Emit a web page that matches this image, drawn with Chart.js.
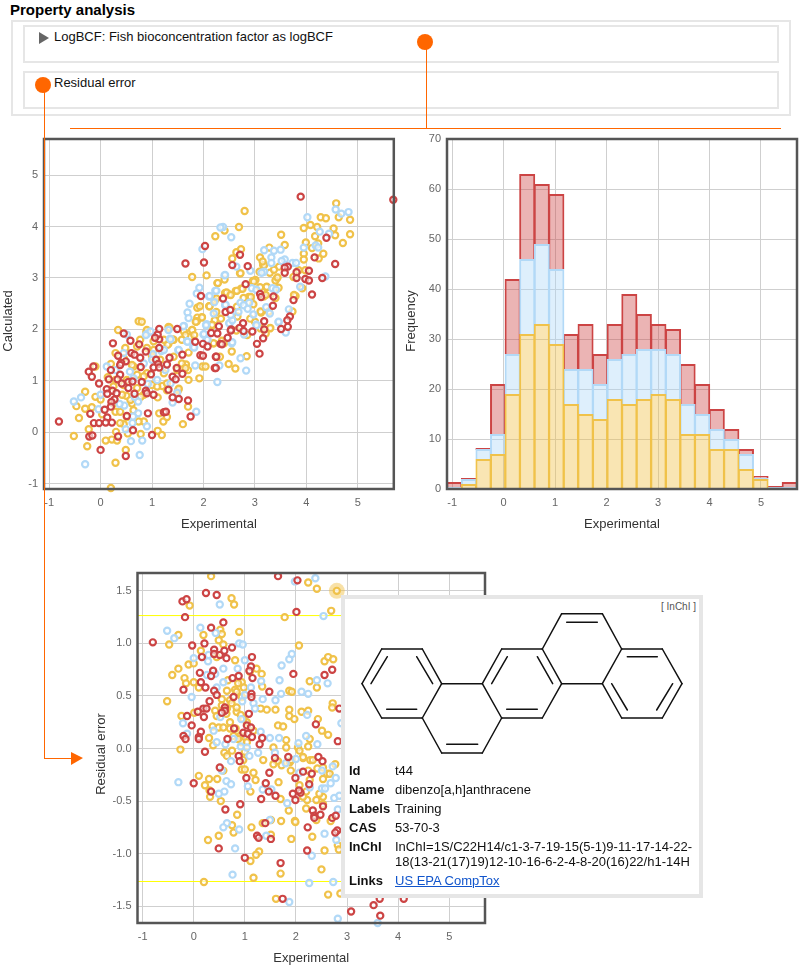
<!DOCTYPE html>
<html>
<head>
<meta charset="utf-8">
<title>Property analysis</title>
<script src="https://cdn.jsdelivr.net/npm/chart.js@4/dist/chart.umd.min.js"></script>
<style>
html, body { margin: 0; padding: 0; background: #fff; overflow: hidden; }
body { width: 803px; height: 969px; position: relative; font: 13px "Liberation Sans", Arial, sans-serif; color: #111; }
.abs { position: absolute; }
.box { position: absolute; border: 2px solid #e6e6e6; box-sizing: border-box; }
.dot { position: absolute; width: 16px; height: 16px; border-radius: 50%; background: #ff6600; z-index: 6; }
.wire { position: absolute; background: #ff6600; z-index: 5; }
canvas { position: absolute; }
#tip { position: absolute; left: 341px; top: 595px; width: 362px; height: 303px; box-sizing: border-box; border: 4px solid #e6e6e6; background: #fff; z-index: 4; }
.lbl { position: absolute; left: 349px; font-weight: bold; line-height: 15px; z-index: 5; }
.val { position: absolute; left: 395px; line-height: 15px; z-index: 5; white-space: nowrap; }
</style>
</head>
<body>
<div class="abs" style="left:10px;top:1px;font-weight:bold;font-size:15px;line-height:17px;color:#000">Property analysis</div>
<div class="box" style="left:11px;top:20px;width:780px;height:96px"></div>
<div class="box" style="left:23px;top:25px;width:756px;height:38px"></div>
<div class="box" style="left:23px;top:71px;width:756px;height:38px"></div>
<svg class="abs" style="left:38px;top:31px" width="12" height="14"><polygon points="1,1 11,7 1,13" fill="#666"/></svg>
<div class="abs" style="left:54px;top:29px;line-height:15px">LogBCF: Fish bioconcentration factor as logBCF</div>
<div class="abs" style="left:54px;top:75px;line-height:15px">Residual error</div>

<div class="dot" style="left:417px;top:34px"></div>
<div class="wire" style="left:426px;top:42px;width:1px;height:86px"></div>
<div class="wire" style="left:70px;top:128px;width:711px;height:1px"></div>
<div class="dot" style="left:35px;top:77px"></div>
<div class="wire" style="left:44px;top:85px;width:1px;height:674px"></div>
<div class="wire" style="left:44px;top:758px;width:29px;height:1px"></div>
<svg class="abs" style="left:71px;top:751px;z-index:5" width="13" height="15"><polygon points="0,1 12,7 0,14" fill="#ff6600"/></svg>

<canvas id="calcChart"></canvas>
<canvas id="histChart"></canvas>
<canvas id="errChart"></canvas>

<div id="tip"></div>
<div class="abs" style="left:661px;top:601px;font-size:10px;line-height:12px;color:#555;z-index:5">[ InChI ]</div>
<svg class="abs" id="mol" style="left:335px;top:590px;z-index:5" width="375" height="180" viewBox="0 0 1125 540"></svg>
<div class="lbl" style="top:763px">Id</div><div class="val" style="top:763px">t44</div>
<div class="lbl" style="top:782px">Name</div><div class="val" style="top:782px">dibenzo[a,h]anthracene</div>
<div class="lbl" style="top:801px">Labels</div><div class="val" style="top:801px">Training</div>
<div class="lbl" style="top:820px">CAS</div><div class="val" style="top:820px">53-70-3</div>
<div class="lbl" style="top:839px">InChI</div><div class="val" style="top:839px">InChI=1S/C22H14/c1-3-7-19-15(5-1)9-11-17-14-22-<br>18(13-21(17)19)12-10-16-6-2-4-8-20(16)22/h1-14H</div>
<div class="lbl" style="top:873px">Links</div><div class="val" style="top:873px;color:#1155cc;text-decoration:underline">US EPA CompTox</div>

<script>
// histogram bins and per label counts
const binCenters = [-0.958,-0.675,-0.392,-0.108,0.175,0.458,0.742,1.025,1.308,1.592,1.875,2.158,2.442,2.725,3.008,3.292,3.575,3.858,4.142,4.425,4.708,4.992,5.275,5.558];
const histTraining = [0,1,6,7,19,31,33,29,17,15,14,18,17,18,19,18,11,11,8,8,4,2,0,0];
const histValidation = [0,1,2,4,8,15,16,15,7,9,7,8,10,10,9,9,6,4,4,2,3,0,0,0];
const histTest = [1,0,0,10,15,17,12,15,7,9,6,7,12,7,5,5,8,6,4,2,1,0,0,1];

// Experimental vs Calculated, [x, y]
const calcTest = [[-0.81,0.21],[-0.14,1.28],[-0.23,1.18],[-0.17,1.08],[-0.03,0.95],[0.16,1.03],[0.20,1.21],[0.24,1.73],[0.45,1.92],[0.58,1.78],[0.75,1.71],[0.34,1.49],[0.60,1.54],[0.66,1.51],[0.77,1.45],[0.88,1.57],[0.49,1.38],[0.40,1.35],[0.38,1.31],[0.78,1.27],[1.08,1.41],[1.12,1.33],[1.03,1.26],[1.14,1.26],[0.98,1.13],[0.38,1.12],[0.33,1.03],[0.41,0.95],[0.54,0.98],[0.54,0.86],[0.62,0.99],[0.80,0.98],[0.12,0.84],[0.23,0.81],[0.13,0.75],[0.31,0.76],[0.27,0.64],[0.21,0.59],[0.20,0.50],[0.08,0.44],[-0.20,0.36],[0.13,0.29],[-0.13,0.18],[-0.03,0.18],[0.10,0.19],[0.22,0.19],[-0.22,-0.08],[-0.16,-0.06],[0.34,-0.08],[0,-0.34],[0.49,-0.46],[0.51,0.32],[0.63,0.04],[1.0,-0.05],[0.92,0.37],[0.66,0.75],[0.88,0.81],[0.90,0.76],[1.03,0.73],[1.32,0.83],[1.40,0.68],[1.52,0.65],[1.70,0.62],[1.75,0.31],[1.23,0.39],[1.27,0.40],[1.29,1.32],[1.34,1.45],[1.14,1.64],[1.14,1.81],[1.11,1.90],[1.06,1.84],[1.14,2.01],[1.49,2.01],[1.84,1.76],[1.48,1.25],[1.59,1.51],[1.59,1.14],[1.40,1.08],[1.46,1.03],[1.94,1.50],[1.99,1.49],[1.99,1.72],[2.08,1.67],[2.15,1.93],[2.27,1.92],[2.22,1.25],[2.24,1.47],[2.30,2.06],[2.33,1.72],[1.65,3.28],[2.03,3.62],[2.01,3.30],[1.95,2.65],[3.89,4.58],[5.69,4.52],[4.39,3.78],[4.16,3.40],[4.56,3.27],[2.71,3.45],[2.56,3.25],[2.86,3.23],[3.64,3.22],[3.58,3.20],[3.58,3.10],[3.81,3.11],[4.05,3.14],[3.81,3.00],[3.98,2.98],[4.05,2.95],[4.31,3.0],[4.11,2.68],[3.75,2.57],[3.36,2.64],[3.10,2.69],[3.12,2.63],[3.35,2.46],[2.82,2.88],[2.38,2.60],[2.43,2.34],[2.52,2.38],[3.68,2.25],[3.63,2.18],[3.18,2.16],[2.77,2.12],[2.70,2.03],[3.64,2.05],[3.51,2.01],[2.54,2.0],[2.95,1.96],[3.18,2.0],[2.53,1.98],[2.47,1.84],[2.78,1.97],[3.16,1.83],[3.04,1.72],[3.09,1.53],[2.36,1.71],[2.25,1.47],[2.24,1.25]];
const calcValid = [[-0.52,0.60],[-0.38,0.68],[-0.04,0.45],[-0.30,-0.62],[0.76,-0.44],[0.59,-0.17],[0.81,-0.16],[0.49,0.06],[0.90,0.12],[0.62,0.18],[0.73,0.37],[0.63,0.31],[0.46,0.52],[0.37,0.55],[0.73,0.60],[0.66,0.69],[0.12,1.28],[0.57,1.18],[0.45,1.54],[0.90,1.91],[0.97,1.96],[1.32,1.99],[1.35,1.82],[1.18,1.58],[1.02,1.52],[1.26,1.21],[1.10,1.02],[0.92,0.94],[1.36,0.95],[1.49,0.77],[1.40,0.58],[1.86,0.40],[2.27,0.98],[1.84,1.30],[1.51,1.60],[1.62,2.07],[1.68,1.77],[1.80,1.66],[2.06,2.10],[2.0,1.90],[0.29,1.21],[0.64,1.05],[0,0.73],[0.51,1.90],[1.23,1.60],[0.84,1.34],[2.72,1.44],[2.83,1.20],[2.31,1.30],[2.55,1.73],[2.05,2.08],[2.79,1.90],[3.03,2.09],[3.46,2.14],[3.60,1.94],[2.51,2.12],[2.06,1.80],[4.57,4.33],[4.68,4.25],[4.82,4.28],[4.02,4.18],[4.26,3.90],[4.44,3.86],[4.18,3.63],[4.23,3.59],[3.95,3.59],[3.50,3.55],[3.37,3.53],[3.18,3.54],[3.32,3.40],[3.32,3.29],[3.58,3.36],[3.52,3.33],[3.73,3.29],[3.80,3.29],[2.91,3.14],[3.18,3.12],[3.13,3.10],[2.41,3.05],[2.64,3.22],[2.38,3.99],[2.54,3.79],[4.37,3.03],[3.88,2.83],[3.34,2.80],[3.41,2.77],[2.94,2.80],[3.03,2.77],[2.23,2.75],[2.11,2.64],[2.21,2.53],[2.72,2.52],[2.89,2.52],[2.78,2.47],[2.86,2.40],[2.42,2.47],[2.20,2.31],[2.68,2.34],[2.97,2.29],[3.22,2.43],[3.29,2.31],[3.66,2.39],[3.46,2.15],[3.03,2.08],[2.50,2.12],[2.56,2.18],[1.98,3.56],[2.33,3.98],[1.92,2.81],[1.87,2.70],[2.12,2.65],[1.73,2.50],[1.69,2.33],[1.71,2.22],[1.61,2.06],[2.25,2.75],[2.42,3.06],[2.43,2.48],[2.53,2.28],[2.01,1.91],[1.69,1.76],[1.82,1.65],[2.08,1.80],[2.56,1.75],[1.36,1.81],[0.88,1.89],[1.52,1.60],[1.0,1.41]];
const calcTrain = [[0.20,-1.08],[0.29,-0.59],[-0.26,-0.27],[-0.52,-0.07],[-0.42,0.28],[-0.47,0.51],[-0.30,0.46],[-0.30,0.79],[-0.10,0.69],[0,0.64],[-0.17,0.49],[-0.23,0.06],[-0.10,1.28],[0.10,-0.16],[0.22,-0.14],[0.32,-0.16],[0.30,0.01],[0.49,-0.34],[0.84,0.21],[0.78,-0.03],[1.11,0.03],[1.19,-0.05],[1.22,0.21],[1.29,0.30],[1.14,0.37],[1.60,0.16],[1.70,0.50],[0.29,0.40],[0.38,0.40],[0.03,0.35],[0.45,0.16],[0.53,-0.02],[0.34,1.99],[0.20,1.33],[0.14,1.07],[0.48,1.64],[0.90,1.64],[1.32,1.72],[1.42,1.80],[0.89,1.95],[1.32,2.05],[1.62,1.96],[1.78,1.99],[1.86,2.16],[1.75,1.86],[1.71,1.55],[1.66,1.32],[1.70,1.21],[1.92,1.05],[1.71,1.02],[1.98,1.28],[1.51,0.82],[1.20,0.90],[1.11,0.68],[0.84,0.73],[0.61,0.56],[0.50,0.71],[0.90,1.15],[0.64,1.28],[1.16,1.41],[1.42,1.47],[1.58,1.34],[1.29,0.82],[0.51,1.02],[0.71,1.12],[1.03,1.60],[0.77,1.80],[0.25,0.89],[0.42,0.73],[2.32,1.47],[2.84,1.48],[2.49,1.33],[2.62,1.24],[2.55,1.57],[3.29,2.02],[2.85,1.89],[2.19,1.73],[3.21,1.92],[2.64,1.98],[2.16,2.07],[3.0,2.15],[2.36,1.78],[2.80,4.30],[2.69,3.99],[2.41,3.92],[2.23,3.81],[3.51,3.84],[4.58,4.45],[4.63,4.18],[4.28,4.18],[4.38,4.16],[4.85,4.13],[3.95,3.97],[4.08,4.03],[4.21,3.99],[4.53,3.96],[4.56,3.83],[4.85,3.85],[4.71,3.68],[4.17,3.81],[3.99,3.69],[4.23,3.67],[4.11,3.58],[4.33,3.47],[4.24,3.38],[3.95,3.47],[3.95,3.36],[3.58,3.64],[3.28,3.59],[3.10,3.40],[3.16,3.25],[2.64,3.50],[2.73,3.56],[2.56,3.38],[2.71,3.09],[3.09,3.12],[3.29,3.10],[3.47,3.22],[3.43,3.0],[3.40,2.95],[3.01,2.96],[2.96,2.94],[2.06,3.05],[2.41,2.97],[2.27,2.90],[2.73,2.79],[2.63,2.75],[2.5,2.68],[2.42,2.71],[2.88,2.63],[3.22,2.82],[3.46,2.81],[3.79,2.65],[3.92,2.80],[3.17,2.64],[2.97,2.49],[2.11,2.45],[1.97,2.24],[2.34,2.21],[3.12,2.33],[3.73,2.35],[2.91,2.21],[2.65,2.44],[2.22,2.56],[2.16,2.08],[3.30,2.03],[3.75,3.02],[3.85,3.15],[3.98,3.15],[3.10,2.82],[1.78,3.02],[2.28,2.90],[1.88,2.42],[1.93,2.45],[2.12,2.45],[1.88,2.23],[1.97,2.23],[1.87,2.16],[2.25,2.34],[0.74,2.16],[0.80,2.15],[1.33,2.03],[2.25,2.60],[2.22,2.18],
    [2.45,2.72],[2.53,2.67],[2.65,2.75],[2.76,2.79],[2.78,2.61],[2.92,2.63],[2.98,2.93],[3.23,2.83],[3.44,3.01],[3.37,3.16],[3.18,3.25],[2.72,3.09],[1.85,2.15],[0.90,1.99],[1.34,2.04],[1.78,1.99],[1.65,1.89],[1.82,1.89],[2.17,2.09],[2.20,1.73],[2.40,1.73],[2.04,1.28],[1.65,1.25],[1.30,1.70],[1.41,1.80],[1.0,1.47],[1.52,0.85],[3.11,2.35],[3.11,2.02],[2.66,2.25],[3.27,2.35],[3.76,2.67],[3.40,2.61],[3.21,2.67],[3.15,3.32],
    [0.29,1.54],[0.45,1.44],[0.71,1.67],[1.03,1.77],[1.23,1.80],[1.58,1.80],[0.61,1.31],[0.84,1.09],[1.23,1.15],[1.49,1.21],[0.45,0.92],[0.71,0.86],[1.0,0.92],[0.29,1.02],[0.58,0.63],[0.78,0.69],[1.10,0.89],[1.29,0.95],[0.25,0.56],[0.64,0.43],[0.51,0.30],[0.74,0.21],[0.38,0.18]];

// Experimental vs Residual error, [x, y]
const errTest = [[-0.80,1.01],[-0.22,1.40],[-0.14,1.42],[0.24,1.48],[0.45,1.46],[-0.17,1.25],[0.34,1.15],[0.58,1.20],[-0.03,0.98],[0.21,1.0],[0.16,0.87],[0.40,0.94],[0.40,0.90],[0.51,0.89],[0.60,0.93],[0.64,0.86],[0.75,0.96],[1.14,0.87],[1.12,0.78],[1.09,0.74],[1.15,0.67],[0.88,0.69],[0.76,0.67],[0.12,0.72],[0.38,0.74],[0.34,0.69],[0.14,0.63],[0.23,0.58],[-0.20,0.56],[0.40,0.55],[0.45,0.51],[0.78,0.49],[1.13,0.52],[1.13,0.49],[1.48,0.54],[1.95,0.71],[2.56,0.70],[2.71,0.75],[0.31,0.45],[0.19,0.38],[0.25,0.38],[0.08,0.35],[-0.13,0.31],[0.20,0.30],[0.61,0.39],[0.61,0.36],[0.55,0.34],[1.08,0.33],[-0.04,0.22],[0.79,0.19],[0.14,0.16],[0.97,0.15],[1.04,0.22],[1.12,0.20],[1.06,0.14],[1.14,0.11],[-0.20,0.12],[-0.16,0.09],[0.10,0.11],[0.10,0.09],[0.66,0.09],[1.34,0.10],[1.29,0.04],[0.22,-0.03],[2.39,0.23],[2.82,0.07],[2.85,0.38],[1.65,1.64],[2.03,1.60],[2.01,1.30],[0.51,-0.18],[0.88,-0.07],[0.90,-0.12],[1.59,-0.09],[1.85,-0.08],[2.44,-0.08],[2.52,-0.12],[0,-0.33],[0.34,-0.41],[1.03,-0.28],[1.48,-0.23],[1.41,-0.33],[2.14,-0.22],[2.31,-0.24],[1.99,-0.28],[2.26,-0.34],[1.47,-0.41],[1.60,-0.45],[1.32,-0.48],[1.94,-0.43],[2.09,-0.42],[2.06,-0.40],[1.99,-0.49],[0.91,-0.53],[0.62,-0.58],[2.53,-0.55],[2.33,-0.59],[2.36,-0.64],[2.36,-0.66],[2.48,-0.63],[2.71,-0.66],[2.78,-0.64],[1.40,-0.71],[2.23,-0.75],[2.81,-0.78],[2.77,-0.80],[1.24,-0.83],[1.27,-0.85],[1.51,-0.86],[0.49,-0.95],[1.0,-1.04],[2.22,-0.97],[1.70,-1.09],[1.74,-1.43],[3.08,-1.55],[3.52,-1.49],[3.65,-1.59],[3.64,-1.43],[4.11,-1.43]];
const errValid = [[-0.52,1.12],[-0.38,1.05],[0.13,1.15],[0.43,1.10],[0,0.86],[0.28,0.83],[0.29,0.89],[0.58,0.76],[0.42,0.71],[0.26,0.70],[0.51,1.37],[0.89,1.0],[0.96,0.99],[1.0,0.84],[0.86,0.76],[1.87,0.85],[1.92,0.90],[1.72,0.79],[1.68,0.65],[1.71,0.52],[1.60,0.46],[1.35,0.47],[1.32,0.64],[1.12,0.58],[1.0,0.51],[0.95,0.45],[1.17,0.43],[2.11,0.54],[2.24,0.52],[2.41,0.65],[2.62,0.62],[2.22,0.32],[-0.04,0.49],[-0.21,0.24],[-0.13,0.14],[0.58,0.63],[0.45,0.58],[0.52,0.30],[0.39,0.17],[0.93,0.28],[0.45,0.06],[0.62,0.04],[0.78,0.09],[0.92,0.02],[1.04,0.01],[1.31,0.16],[1.49,0.10],[1.67,0.10],[2.05,0.05],[2.20,0.12],[2.42,0.04],[2.89,0.24],[2.38,1.62],[1.98,1.59],[2.54,1.26],[1.26,-0.04],[1.09,-0.07],[0.73,-0.12],[1.59,-0.04],[2.0,-0.10],[2.72,-0.17],[1.20,0.38],[-0.30,-0.32],[0.55,-0.21],[0.64,-0.31],[0.73,-0.34],[0.60,-0.41],[0.49,-0.43],[1.06,-0.36],[1.35,-0.39],[1.52,-0.39],[1.80,-0.14],[2.07,-0.23],[2.27,-0.37],[2.51,-0.21],[2.68,-0.33],[2.78,-0.28],[2.51,-0.38],[2.57,-0.38],[2.75,-0.47],[2.85,-0.45],[1.83,-0.52],[2.82,-0.58],[1.49,-0.68],[0.65,-0.71],[0.58,-0.75],[0.89,-0.77],[1.42,-0.83],[2.56,-0.81],[2.79,-0.87],[0.81,-0.95],[2.31,-1.02],[0.76,-1.20],[2.26,-1.28],[2.73,-1.27],[1.87,-1.46],[2.82,-1.62],[3.60,-1.66]];
const errTrain = [[0.34,1.64],[0.74,1.43],[0.79,1.37],[-0.08,1.36],[-0.30,1.08],[-0.48,0.99],[-0.42,0.70],[-0.30,0.76],[-0.52,0.45],[-0.18,0.67],[-0.15,0.62],[-0.10,0.80],[0,0.81],[0,0.63],[0.10,0.58],[-0.24,0.31],[0.01,0.34],[-0.26,-0.01],[0.30,0.10],[0.38,0.03],[0.19,1.08],[0.52,1.13],[0.55,1.09],[0.49,1.03],[0.89,1.11],[0.58,0.99],[0.14,0.93],[0.45,0.87],[0.81,0.84],[0.67,0.65],[0.94,0.63],[0.98,0.58],[0.65,0.55],[0.81,0.56],[0.55,0.47],[0.71,0.46],[0.42,0.36],[0.64,0.33],[0.84,0.35],[0.37,0.21],[0.49,0.20],[0.58,0.20],[0.71,0.25],[0.82,0.19],[0.91,0.12],[1.04,0.25],[1.10,0.73],[1.33,0.71],[1.23,0.76],[1.34,0.59],[1.31,0.38],[1.43,0.37],[1.60,0.37],[1.87,0.37],[1.87,0.31],[1.97,0.28],[2.11,0.35],[2.24,0.36],[1.87,0.55],[1.92,0.54],[2.27,0.64],[2.41,0.58],[2.56,0.83],[2.63,0.87],[2.73,0.85],[2.06,0.98],[1.78,1.25],[2.24,1.58],[2.41,1.52],[2.69,1.31],[2.72,0.43],[2.71,0.39],[2.43,0.28],[2.51,0.17],[2.63,0.13],[2.27,0.09],[1.65,0.22],[1.75,0.21],[1.81,0.08],[1.56,0.01],[1.81,0.01],[2.04,0.01],[2.24,0.02],[2.07,-0.02],[1.62,-0.12],[1.88,-0.13],[2.14,-0.09],[2.28,-0.11],[2.77,-0.15],[0.60,-0.04],[0.75,-0.02],[1.0,-0.03],[0.10,-0.26],[0.30,-0.29],[0.46,-0.29],[0.22,-0.35],[0.31,-0.40],[0.32,-0.46],[0.53,-0.50],[0.58,-0.21],[0.94,-0.20],[1.0,-0.20],[1.17,-0.23],[1.21,-0.30],[1.11,-0.41],[1.66,-0.32],[1.70,-0.48],[1.90,-0.21],[2.22,-0.49],[2.40,-0.49],[2.53,-0.29],[2.61,-0.24],[2.24,-0.21],[2.42,-0.19],[1.86,-0.59],[0.85,-0.63],[0.75,-0.73],[0.78,-0.80],[0.49,-0.83],[0.28,-0.87],[1.13,-0.75],[1.35,-0.71],[1.51,-0.68],[1.71,-0.69],[1.98,-0.69],[1.99,-0.70],[2.68,-0.69],[2.32,-0.84],[1.91,-0.86],[1.51,-0.82],[1.28,-0.98],[1.22,-1.01],[1.11,-1.07],[2.56,-0.97],[2.82,-0.92],[2.84,-0.96],[2.50,-1.15],[1.70,-1.19],[1.17,-1.23],[0.20,-1.27],[2.63,-1.39],[2.87,-1.38],[1.61,-1.43],[0.97,-0.11],[0.65,-0.07],[1.65,-0.12],[1.72,-0.16],[2.07,-0.35],[2.53,-0.46],[2.20,-0.41],
    [0.87,0.62],[0.84,0.54],[0.94,0.49],[0.55,0.41],[0.65,0.38],[0.74,0.43],[0.84,0.39],[0.92,0.32],[0.97,0.28],[0.45,0.31],[0.71,0.19],[0.78,0.12],[0.94,0.06],[0.87,0.09],[1.04,0.06],[1.17,0.17],[1.36,-0.11],[1.56,-0.15],[1.91,-0.11],[2.14,-0.08],[2.33,-0.11],[2.53,-0.18],[2.27,-0.30],[2.14,-0.46],[2.46,-0.43],[2.53,-0.53],[2.20,-0.57],[2.40,-0.68],[2.66,-0.24]];
const errSelected = [[2.80,1.50]];
const errLimit = 1.265;

const xTicksMin = -1.1, xTicksMax = 5.7;
const RED = '#cc4444', BLUE = '#b2d9f7', YELLOW = '#f0c24a';
const FONT = '"Liberation Sans", Arial, sans-serif';

function toPoints(list) {
    return list.map(p => ({ x: p[0], y: p[1] }));
}

function place(id, left, top, width, height) {
    const el = document.getElementById(id);
    el.style.left = left + 'px';
    el.style.top = top + 'px';
    el.style.width = width + 'px';
    el.style.height = height + 'px';
    el.width = width;
    el.height = height;
    return el;
}

// dark frame around the plot area
const framePlugin = {
    id: 'frame',
    afterDraw(chart) {
        const a = chart.chartArea, c = chart.ctx;
        c.save();
        c.strokeStyle = '#555';
        c.lineWidth = 2.5;
        c.strokeRect(a.left, a.top, a.width, a.height);
        c.restore();
    }
};

// the y title sits a little below the middle of the axis, chart.js always centers its own
const yTitlePlugin = {
    id: 'yTitle',
    afterDraw(chart, args, opts) {
        const c = chart.ctx;
        c.save();
        c.translate(opts.x, opts.y);
        c.rotate(-Math.PI / 2);
        c.font = '13px ' + FONT;
        c.fillStyle = '#333';
        c.textAlign = 'center';
        c.textBaseline = 'middle';
        c.fillText(opts.text, 0, 0);
        c.restore();
    }
};

// horizontal limit lines in the residual plot, placed through the y scale
const limitPlugin = {
    id: 'limits',
    beforeDatasetsDraw(chart) {
        const a = chart.chartArea, c = chart.ctx, y = chart.scales.y;
        c.save();
        c.strokeStyle = '#ffff00';
        c.lineWidth = 1;
        [errLimit, -errLimit].forEach(v => {
            const py = y.getPixelForValue(v);
            c.beginPath();
            c.moveTo(a.left, py);
            c.lineTo(a.right, py);
            c.stroke();
        });
        c.restore();
    }
};

function axes(xTitle, yMin, yMax, yStep, yFmt, yWidth, xHeight, xTitlePad) {
    return {
        x: {
            type: 'linear', min: xTicksMin, max: xTicksMax, offset: false, stacked: true,
            border: { display: false },
            grid: { color: '#cfcfcf', lineWidth: 1, drawTicks: false, offset: false },
            ticks: { stepSize: 1, includeBounds: false, autoSkip: false, maxRotation: 0, padding: 7, color: '#666', font: { family: FONT, size: 11 } },
            title: { display: true, text: xTitle, color: '#333', font: { family: FONT, size: 13 }, padding: { top: 0, bottom: xTitlePad } },
            afterFit: s => { s.height = xHeight; s.paddingLeft = 0; s.paddingRight = 0; }
        },
        y: {
            min: yMin, max: yMax, stacked: true,
            border: { display: false },
            grid: { color: '#cfcfcf', lineWidth: 1, drawTicks: false },
            ticks: { stepSize: yStep, includeBounds: false, autoSkip: false, padding: 6, color: '#666', font: { family: FONT, size: 11 }, callback: yFmt },
            afterFit: s => { s.width = yWidth; s.paddingTop = 0; s.paddingBottom = 0; }
        }
    };
}

function plugOpts(text, x, y) {
    return { legend: { display: false }, tooltip: { enabled: false }, yTitle: { text: text, x: x, y: y } };
}

function ringSet(label, list, color) {
    return {
        label: label,
        data: toPoints(list),
        borderColor: color,
        backgroundColor: 'rgba(255,255,255,0.6)',
        borderWidth: 2.2,
        pointRadius: 3.1,
        showLine: false,
        clip: false
    };
}

new Chart(place('calcChart', 0, 130, 400, 405), {
    type: 'scatter',
    data: { datasets: [
        ringSet('Test', calcTest, RED),
        ringSet('Validation', calcValid, BLUE),
        ringSet('Training', calcTrain, YELLOW)
    ] },
    options: {
        responsive: false,
        animation: false,
        plugins: plugOpts('Calculated', 8, 191),
        layout: { padding: { top: 9, right: 6, left: 0, bottom: 0 } },
        scales: (() => {
            const s = axes('Experimental', -1.1, 5.7, 1, v => v, 44, 46, 3);
            s.x.stacked = false; s.y.stacked = false;
            return s;
        })()
    },
    plugins: [framePlugin, yTitlePlugin]
});

new Chart(place('histChart', 400, 130, 403, 405), {
    type: 'bar',
    data: {
        labels: binCenters,
        datasets: [
            { label: 'Training', data: binCenters.map((x, i) => ({ x: x, y: histTraining[i] })), backgroundColor: 'rgba(240,194,74,0.42)', borderColor: YELLOW, borderWidth: 2 },
            { label: 'Validation', data: binCenters.map((x, i) => ({ x: x, y: histValidation[i] })), backgroundColor: 'rgba(172,214,247,0.4)', borderColor: BLUE, borderWidth: 2, minBarLength: 2 },
            { label: 'Test', data: binCenters.map((x, i) => ({ x: x, y: histTest[i] })), backgroundColor: 'rgba(204,68,68,0.4)', borderColor: RED, borderWidth: 2, minBarLength: 2 }
        ]
    },
    options: {
        responsive: false,
        animation: false,
        plugins: plugOpts('Frequency', 11.7, 191),
        barPercentage: 1.1,
        categoryPercentage: 1,
        layout: { padding: { top: 9, right: 6, left: 0, bottom: 0 } },
        scales: axes('Experimental', 0, 70, 10, v => v, 47, 46, 3)
    },
    plugins: [framePlugin, yTitlePlugin]
});

new Chart(place('errChart', 90, 565, 403, 403), {
    type: 'scatter',
    data: { datasets: [
        { label: 'Selected', data: toPoints(errSelected), borderColor: 'rgba(239,189,60,0)', backgroundColor: 'rgba(239,189,60,0.45)', borderWidth: 0, pointRadius: 8, clip: false, order: 5 },
        ringSet('Selected ring', errSelected, YELLOW),
        ringSet('Test', errTest, RED),
        ringSet('Validation', errValid, BLUE),
        ringSet('Training', errTrain, YELLOW)
    ] },
    options: {
        responsive: false,
        animation: false,
        plugins: plugOpts('Residual error', 11.7, 189),
        layout: { padding: { top: 8, right: 5.5, left: 0, bottom: 0 } },
        scales: (() => {
            const s = axes('Experimental', -1.66, 1.67, 0.5, v => v.toFixed(1), 47.5, 45, 2);
            s.x.stacked = false; s.y.stacked = false;
            return s;
        })()
    },
    plugins: [framePlugin, limitPlugin, yTitlePlugin]
});

// structure drawing in the info box
const molBonds = [
    [140,177,262,177],[262,177,320,281],[320,281,262,384],[262,384,140,384],[140,384,81,281],[81,281,140,177],
    [157,200,108,281],[245,200,293,281],[155,358,245,358],
    [262,384,320,489],[320,489,442,489],[442,489,500,384],[500,384,442,281],[442,281,320,281],[335,463,428,463],
    [442,281,500,177],[500,177,622,177],[622,177,680,281],[680,281,622,384],[622,384,500,384],
    [517,200,470,281],[607,200,653,281],[515,358,607,358],
    [622,177,680,71],[680,71,802,71],[802,71,860,177],[860,177,802,281],[802,281,680,281],[695,97,787,97],
    [860,177,982,177],[982,177,1041,281],[1041,281,982,384],[982,384,860,384],[860,384,802,281],
    [877,200,967,200],[1013,281,965,360],[830,281,877,360]
];
document.getElementById('mol').innerHTML = molBonds.map(b =>
    `<line x1="${b[0]}" y1="${b[1]}" x2="${b[2]}" y2="${b[3]}" stroke="#111" stroke-width="4.5" stroke-linecap="round"/>`
).join('');
</script>
</body>
</html>
